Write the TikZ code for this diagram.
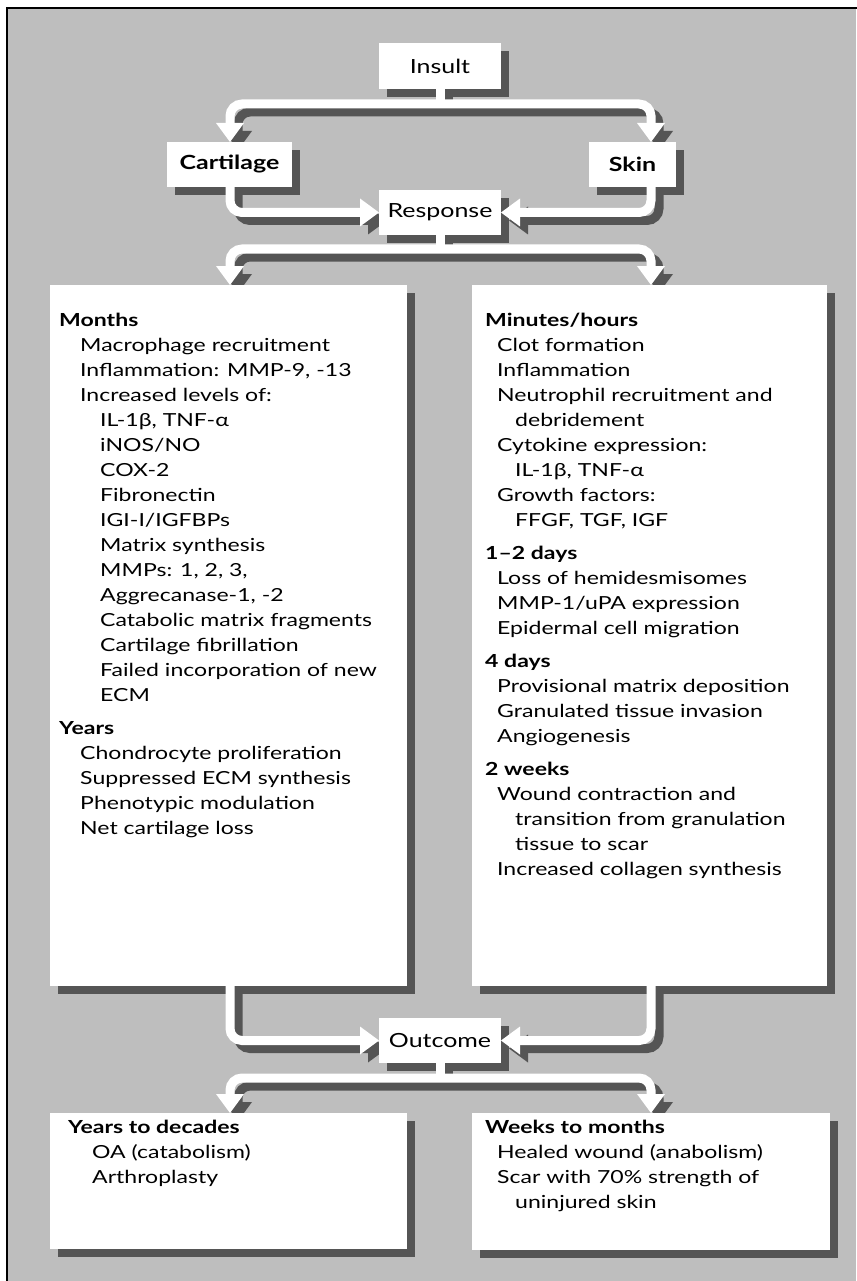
\documentclass[tikz,border=0pt]{standalone}
\usepackage{fontspec}
\setmainfont{Lato}[FakeStretch=1.28]
\usetikzlibrary{arrows.meta,shadows,calc}
\definecolor{bggray}{HTML}{BEBEBE}
\definecolor{shd}{HTML}{555555}
\pgfdeclarelayer{bg}
\pgfdeclarelayer{shl}
\pgfsetlayers{bg,shl,main}
\begin{document}
\begin{tikzpicture}[x=1pt,y=-1pt,
  box/.style={fill=white, draw=none, inner sep=0pt, outer sep=0pt,
    drop shadow={shadow xshift=8pt, shadow yshift=-8pt, fill=shd, opacity=1}},
  bigbox/.style={box, anchor=north west},
  lbl/.style={font=\fontsize{19.5}{25}\selectfont},
  blbl/.style={font=\bfseries\fontsize{19.5}{25}\selectfont},
  txt/.style={align=left, inner sep=0pt, anchor=north west, font=\fontsize{18}{25}\selectfont},
  lane/.style={line width=9pt, white, rounded corners=12pt},
  tipa/.style={-{Triangle[width=28pt,length=19pt,line width=0pt]}},
  tipb/.style={{Triangle[width=28pt,length=19pt,line width=0pt]}-{Triangle[width=28pt,length=19pt,line width=0pt]}},
  sh/.style={shd, transform canvas={xshift=8pt,yshift=-8pt}}
]
\useasboundingbox (0,0) rectangle (856,1281);
\begin{pgfonlayer}{bg}
\fill[white] (0,0) rectangle (856,1281);
\fill[bggray] (7,8) rectangle (856,1281);
\draw[line width=2.5pt, line cap=rect] (7,1282) -- (7,8) -- (857,8);
\end{pgfonlayer}

% boxes
\node[box, lbl, minimum width=122pt, minimum height=46pt] (ins) at (440,66) {Insult};
\node[box, blbl, minimum width=125pt, minimum height=45pt] (cart) at (229.5,164.5) {Cartilage};
\node[box, blbl, minimum width=87pt, minimum height=45pt] (skin) at (632.5,164.5) {Skin};
\node[box, lbl, minimum width=122pt, minimum height=45pt] (resp) at (440,212.5) {Response};
\node[bigbox, minimum width=357pt, minimum height=701pt] (lb) at (50,285) {};
\node[bigbox, minimum width=355pt, minimum height=701pt] (rb) at (472,285) {};
\node[box, lbl, minimum width=122pt, minimum height=45pt] (out) at (440,1040.5) {Outcome};
\node[bigbox, minimum width=357pt, minimum height=136pt] (lbb) at (50,1113) {};
\node[bigbox, minimum width=358pt, minimum height=137pt] (rbb) at (472,1113) {};

% texts
\node[txt] (lbt) at (59,310) {\rule{0pt}{16pt}\textbf{Months}\\
\hspace*{21pt}Macrophage recruitment\\
\hspace*{21pt}Inflammation: MMP-9, -13\\
\hspace*{21pt}Increased levels of:\\
\hspace*{41pt}IL-1β, TNF-α\\
\hspace*{41pt}iNOS/NO\\
\hspace*{41pt}COX-2\\
\hspace*{41pt}Fibronectin\\
\hspace*{41pt}IGI-I/IGFBPs\\
\hspace*{41pt}Matrix synthesis\\
\hspace*{41pt}MMPs: 1, 2, 3,\\
\hspace*{41pt}Aggrecanase-1, -2\\
\hspace*{41pt}Catabolic matrix fragments\\
\hspace*{41pt}Cartilage fibrillation\\
\hspace*{41pt}Failed incorporation of new\\
\hspace*{41pt}ECM\\[8pt]
\textbf{Years}\\
\hspace*{21pt}Chondrocyte proliferation\\
\hspace*{21pt}Suppressed ECM synthesis\\
\hspace*{21pt}Phenotypic modulation\\
\hspace*{21pt}Net cartilage loss};

\node[txt] (rbt) at (485,310) {\rule{0pt}{16pt}\textbf{Minutes/hours}\\
\hspace*{12pt}Clot formation\\
\hspace*{12pt}Inflammation\\
\hspace*{12pt}Neutrophil recruitment and\\
\hspace*{30pt}debridement\\
\hspace*{12pt}Cytokine expression:\\
\hspace*{30pt}IL-1β, TNF-α\\
\hspace*{12pt}Growth factors:\\
\hspace*{30pt}FFGF, TGF, IGF\\[8pt]
\textbf{1–2 days}\\
\hspace*{12pt}Loss of hemidesmisomes\\
\hspace*{12pt}MMP-1/uPA expression\\
\hspace*{12pt}Epidermal cell migration\\[8pt]
\textbf{4 days}\\
\hspace*{12pt}Provisional matrix deposition\\
\hspace*{12pt}Granulated tissue invasion\\
\hspace*{12pt}Angiogenesis\\[8pt]
\textbf{2 weeks}\\
\hspace*{12pt}Wound contraction and\\
\hspace*{30pt}transition from granulation\\
\hspace*{30pt}tissue to scar\\
\hspace*{12pt}Increased collagen synthesis};

\node[txt] (lbbt) at (68,1117) {\rule{0pt}{16pt}\textbf{Years to decades}\\
\hspace*{24pt}OA (catabolism)\\
\hspace*{24pt}Arthroplasty};

\node[txt] (rbbt) at (485,1117) {\rule{0pt}{16pt}\textbf{Weeks to months}\\
\hspace*{12pt}Healed wound (anabolism)\\
\hspace*{12pt}Scar with 70\% strength of\\
\hspace*{30pt}uninjured skin};

% lane coordinates
\coordinate (L) at (230,0);
\coordinate (R) at (651,0);
\coordinate (b1) at ($(ins.south)+(0,15)$);
\coordinate (b2) at ($(resp.south)+(0,14)$);
\coordinate (b3) at ($(out.south)+(0,15)$);

% shadows of lanes
\begin{pgfonlayer}{shl}
\draw[lane, sh, tipb] (L |- cart.north) |- (b1) -| (R |- skin.north);
\draw[lane, sh] (ins.south) -- (b1);
\draw[lane, sh, tipa] (cart.south -| L) |- (resp.west);
\draw[lane, sh, tipa] (skin.south -| R) |- (resp.east);
\draw[lane, sh, tipb] (L |- lb.north) |- (b2) -| (R |- rb.north);
\draw[lane, sh] (resp.south) -- (b2);
\draw[lane, sh, tipa] (lb.south -| L) |- (out.west);
\draw[lane, sh, tipa] (rb.south -| R) |- (out.east);
\draw[lane, sh, tipb] (L |- lbb.north) |- (b3) -| (R |- rbb.north);
\draw[lane, sh] (out.south) -- (b3);
\end{pgfonlayer}

% white lanes
\draw[lane, tipb] (L |- cart.north) |- (b1) -| (R |- skin.north);
\draw[lane] (ins.south) -- (b1);
\draw[lane, tipa] (cart.south -| L) |- (resp.west);
\draw[lane, tipa] (skin.south -| R) |- (resp.east);
\draw[lane, tipb] (L |- lb.north) |- (b2) -| (R |- rb.north);
\draw[lane] (resp.south) -- (b2);
\draw[lane, tipa] (lb.south -| L) |- (out.west);
\draw[lane, tipa] (rb.south -| R) |- (out.east);
\draw[lane, tipb] (L |- lbb.north) |- (b3) -| (R |- rbb.north);
\draw[lane] (out.south) -- (b3);
\end{tikzpicture}
\end{document}
